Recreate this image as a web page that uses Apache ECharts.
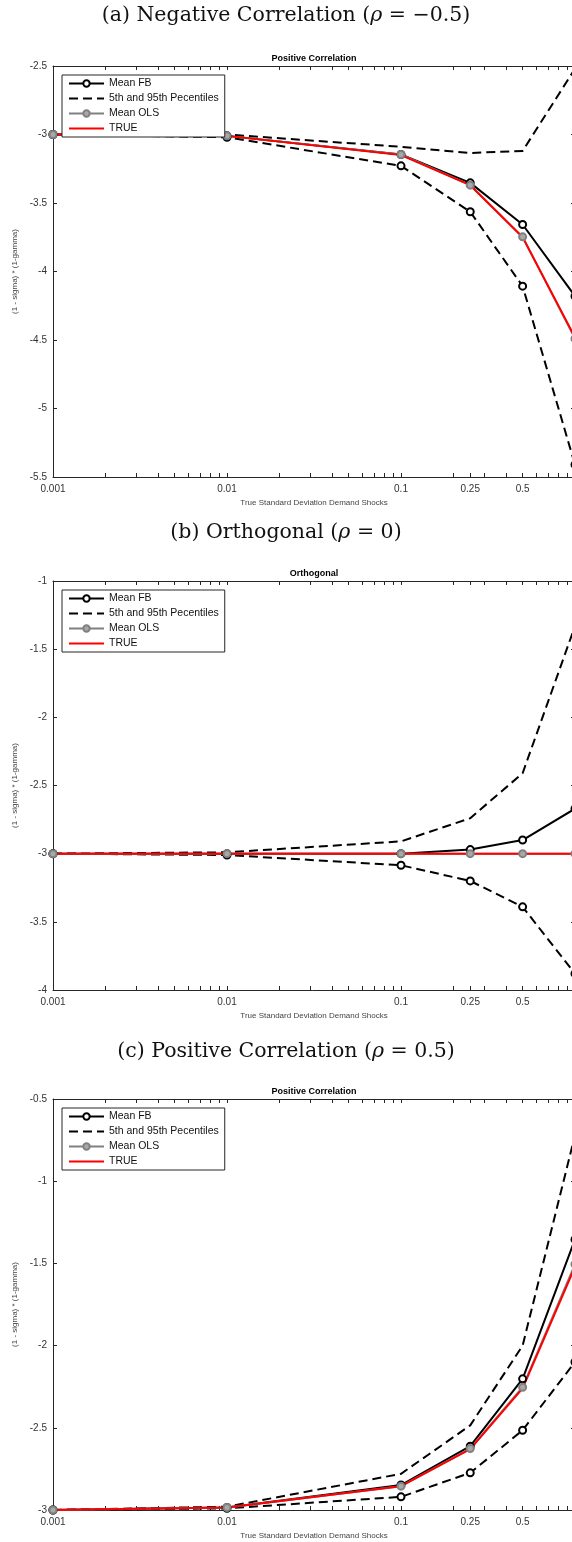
<!DOCTYPE html>
<html>
<head>
<meta charset="utf-8">
<script src="https://cdn.jsdelivr.net/npm/echarts@6/dist/echarts.min.js"></script>
<style>
  html, body { margin: 0; padding: 0; background: #fff; }
  #chart { width: 572px; height: 1542px; }
</style>
</head>
<body>
<div id="chart"></div>
<script>
// x values (true std dev of demand shocks)
const xs = [0.001, 0.01, 0.1, 0.25, 0.5, 1]
const xTickVals = [0.001, 0.01, 0.1, 0.25, 0.5, 1]
const seriesNames = ['Mean FB', '5th and 95th Pecentiles', 'Mean OLS', 'TRUE']

// (a) negative correlation
const negFB = [-3, -3.01, -3.146, -3.353, -3.657, -4.18]
const negP95 = [-3, -3.0, -3.09, -3.135, -3.12, -2.52]
const negP5 = [-3, -3.02, -3.229, -3.564, -4.107, -5.41]
const negOLS = [-3, -3.01, -3.146, -3.37, -3.747, -4.49]
const negTrue = [-3, -3.01, -3.15, -3.37, -3.75, -4.48]

// (b) orthogonal
const orthFB = [-3, -3.0, -3.0, -2.97, -2.9, -2.67]
const orthP95 = [-3, -2.99, -2.91, -2.74, -2.41, -1.33]
const orthP5 = [-3, -3.01, -3.085, -3.2, -3.39, -3.88]
const orthOLS = [-3, -3, -3, -3, -3, -3]
const orthTrue = [-3, -3, -3, -3, -3, -3]

// (c) positive correlation
const posFB = [-3, -2.985, -2.848, -2.612, -2.202, -1.354]
const posP95 = [-3, -2.98, -2.78, -2.485, -2.0, -0.72]
const posP5 = [-3, -2.99, -2.92, -2.774, -2.515, -2.1]
const posOLS = [-3, -2.985, -2.855, -2.626, -2.253, -1.505]
const posTrue = [-3, -2.985, -2.855, -2.63, -2.26, -1.52]

const panels = [
  { caption: '(a) Negative Correlation (', rho: ' = \u22120.5)', title: 'Positive Correlation',
    top: 66, height: 411, ymin: -5.5, ymax: -2.5, capY: 16,
    fb: negFB, p95: negP95, p5: negP5, ols: negOLS, tru: negTrue },
  { caption: '(b) Orthogonal (', rho: ' = 0)', title: 'Orthogonal',
    top: 581, height: 409, ymin: -4, ymax: -1, capY: 533,
    fb: orthFB, p95: orthP95, p5: orthP5, ols: orthOLS, tru: orthTrue },
  { caption: '(c) Positive Correlation (', rho: ' = 0.5)', title: 'Positive Correlation',
    top: 1099, height: 411, ymin: -3, ymax: -0.5, capY: 1052,
    fb: posFB, p95: posP95, p5: posP5, ols: posOLS, tru: posTrue }
]

// minor ticks for the log axis, 2..9 in each decade
const minorTicks = []
;[0.001, 0.01, 0.1].forEach(d => {
  for (let k = 1; k <= 10; k++) minorTicks.push(+(d * k).toPrecision(3))
})
minorTicks.push(0.25)

const FONT = 'Liberation Sans'
const SERIF = 'DejaVu Serif'
const AXIS_COL = '#262626'
const LEFT = 53
const PLOT_W = 522

const grid = [], xAxis = [], yAxis = [], series = [], legend = [], graphic = []

panels.forEach((p, i) => {
  grid.push({ left: LEFT, top: p.top, width: PLOT_W, height: p.height,
    containLabel: false, outerBoundsMode: 'none' })
  const line = { lineStyle: { color: AXIS_COL, width: 1 } }
  const tick = { inside: true, length: 4, lineStyle: { color: AXIS_COL, width: 1 }, customValues: minorTicks }
  xAxis.push({
    type: 'log', logBase: 10, gridIndex: i, min: 0.001, max: 1, position: 'bottom',
    axisLine: line, axisTick: tick, splitLine: { show: false },
    axisLabel: { customValues: xTickVals, color: '#333', fontSize: 10, fontFamily: FONT, margin: 7,
      formatter: v => String(+(+v).toPrecision(3)) },
    name: 'True Standard Deviation Demand Shocks', nameLocation: 'middle', nameGap: 22,
    nameTextStyle: { fontSize: 8, color: '#444', fontFamily: FONT }
  })
  xAxis.push({
    type: 'log', logBase: 10, gridIndex: i, min: 0.001, max: 1, position: 'top',
    axisLine: line, axisTick: tick, axisLabel: { show: false }, splitLine: { show: false }
  })
  yAxis.push({
    type: 'value', gridIndex: i, min: p.ymin, max: p.ymax, interval: 0.5, position: 'left',
    axisLine: { show: true, ...line },
    axisTick: { show: true, inside: true, length: 4, lineStyle: { color: AXIS_COL } },
    splitLine: { show: false },
    axisLabel: { color: '#333', fontSize: 10, fontFamily: FONT, margin: 6 },
    name: '(1 - sigma) * (1-gamma)', nameLocation: 'middle', nameGap: 33, nameRotate: 90,
    nameTextStyle: { fontSize: 8, color: '#444', fontFamily: FONT }
  })
  yAxis.push({
    type: 'value', gridIndex: i, min: p.ymin, max: p.ymax, interval: 0.5, position: 'right',
    axisLine: { show: true, ...line },
    axisTick: { show: true, inside: true, length: 4, lineStyle: { color: AXIS_COL } },
    splitLine: { show: false }, axisLabel: { show: false }
  })

  const xi = i * 2, yi = i * 2
  const pts = arr => xs.map((x, k) => [x, arr[k]])
  series.push({
    name: 'Mean FB', type: 'line', xAxisIndex: xi, yAxisIndex: yi, data: pts(p.fb),
    symbol: 'emptyCircle', symbolSize: 7,
    lineStyle: { color: '#000', width: 2 }, itemStyle: { color: '#000', borderColor: '#000', borderWidth: 1.6 }
  })
  series.push({
    name: '5th and 95th Pecentiles', type: 'line', xAxisIndex: xi, yAxisIndex: yi, data: pts(p.p95),
    symbol: 'none', lineStyle: { color: '#000', width: 2, type: [9, 5] }, itemStyle: { color: '#000' }
  })
  series.push({
    name: '5th and 95th Pecentiles', type: 'line', xAxisIndex: xi, yAxisIndex: yi, data: pts(p.p5),
    symbol: 'emptyCircle', symbolSize: 7,
    lineStyle: { color: '#000', width: 2, type: [9, 5] },
    itemStyle: { color: '#000', borderColor: '#000', borderWidth: 1.6 }
  })
  series.push({
    name: 'Mean OLS', type: 'line', xAxisIndex: xi, yAxisIndex: yi, data: pts(p.ols),
    symbol: 'circle', symbolSize: 7,
    lineStyle: { color: '#808080', width: 2 },
    itemStyle: { color: '#a8a8a8', borderColor: '#808080', borderWidth: 2 }
  })
  series.push({
    name: 'TRUE', type: 'line', xAxisIndex: xi, yAxisIndex: yi, data: pts(p.tru),
    symbol: 'none', lineStyle: { color: '#ff0000', width: 2 }, itemStyle: { color: '#ff0000' }
  })

  legend.push({
    data: [
      { name: seriesNames[0] },
      { name: seriesNames[1], itemStyle: { opacity: 0 } },
      { name: seriesNames[2] },
      { name: seriesNames[3], itemStyle: { opacity: 0 } }
    ],
    orient: 'vertical', left: 62, top: p.top + 9,
    itemWidth: 35, itemHeight: 8, itemGap: 4, padding: [3, 6, 3, 6],
    backgroundColor: '#fff', borderColor: AXIS_COL, borderWidth: 1, borderRadius: 0,
    textStyle: { fontSize: 10.5, fontFamily: FONT, color: '#111' },
    selectedMode: false
  })

  graphic.push({
    type: 'text', x: 286, y: p.capY,
    style: {
      text: '{n|' + p.caption + '}{r|\u03c1}{n|' + p.rho + '}',
      align: 'center', verticalAlign: 'middle',
      rich: {
        n: { fontFamily: SERIF, fontSize: 20.5, fill: '#111' },
        r: { fontFamily: SERIF, fontStyle: 'italic', fontSize: 20.5, fill: '#111' }
      }
    }
  })
  graphic.push({
    type: 'text', x: LEFT + PLOT_W / 2, y: p.top - 7,
    style: { text: p.title, align: 'center', verticalAlign: 'middle',
      font: 'bold 9px "Liberation Sans"', fill: '#000' }
  })
})

const chart = echarts.init(document.getElementById('chart'), null, { renderer: 'canvas' })
chart.setOption({
  animation: false,
  backgroundColor: '#fff',
  grid, xAxis, yAxis, series, legend, graphic
})
</script>
</body>
</html>
